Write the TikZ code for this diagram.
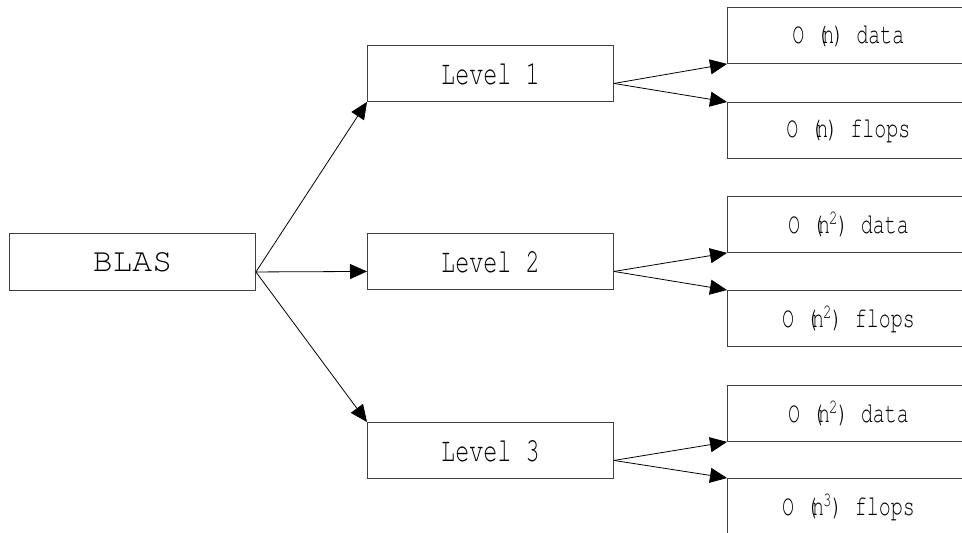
\documentclass[tikz,border=0pt]{standalone}
\usepackage[T1,TU]{fontenc}
\usetikzlibrary{arrows.meta}
% Courier (URW Nimbus Mono) for every label
\newcommand\courfont[1]{\fontencoding{T1}\fontfamily{pcr}\fontseries{m}\fontshape{n}\fontsize{#1}{#1}\selectfont}
% "O (n^k) " prefix of the cost labels, condensed like the rest of the text
\newcommand\bigord[1]{\scalebox{0.69}[1]{\courfont{29}O (\kern-0.3em n\kern-0.05em#1\kern-0.05em) }}
\newcommand\costtxt[1]{\scalebox{0.69}[1]{\courfont{29}#1}}
\begin{document}
\begin{tikzpicture}[x=1pt,y=-1pt,
  box/.style={draw=black!75, line width=0.9pt, inner sep=0pt, anchor=north west,
              minimum width=246pt, minimum height=56pt},
  cbox/.style={box, minimum width=242pt},
  arr/.style={draw=black, line width=0.8pt, -{Triangle[length=17pt,width=15pt]}},
]
\useasboundingbox (0,0) rectangle (962,533);
\clip (0,0) rectangle (962,533);

% root and the three levels
\node[box, minimum height=57pt] (blas) at (9,233) {\courfont{33}BLAS};
\node[box] (l1) at (367,45)  {\scalebox{0.69}[1]{\courfont{34}Level 1}};
\node[box] (l2) at (367,233) {\scalebox{0.69}[1]{\courfont{34}Level 2}};
\node[box] (l3) at (367,422) {\scalebox{0.69}[1]{\courfont{34}Level 3}};

% cost boxes
\node[cbox] (d1) at (727,7)   {\bigord{}\costtxt{data}};
\node[cbox] (f1) at (727,102) {\bigord{}\costtxt{flops}};
\node[cbox] (d2) at (727,196) {\bigord{\textsuperscript{2}}\costtxt{data}};
\node[cbox] (f2) at (727,290) {\bigord{\textsuperscript{2}}\costtxt{flops}};
\node[cbox] (d3) at (727,385) {\bigord{\textsuperscript{2}}\costtxt{data}};
\node[cbox] (f3) at (727,478) {\bigord{\textsuperscript{3}}\costtxt{flops}};

% connectors
\coordinate (bo) at ([yshift=-10pt]blas.east);
\draw[arr] (bo) -- (l1.south west);
\draw[arr] (bo) -- ([yshift=-10pt]l2.west);
\draw[arr] (bo) -- (l3.north west);

\draw[arr] ([yshift=-10pt]l1.east) -- (d1.south west);
\draw[arr] ([yshift=-10pt]l1.east) -- (f1.north west);
\draw[arr] ([yshift=-10pt]l2.east) -- (d2.south west);
\draw[arr] ([yshift=-10pt]l2.east) -- (f2.north west);
\draw[arr] ([yshift=-10pt]l3.east) -- (d3.south west);
\draw[arr] ([yshift=-10pt]l3.east) -- (f3.north west);
\end{tikzpicture}
\end{document}
